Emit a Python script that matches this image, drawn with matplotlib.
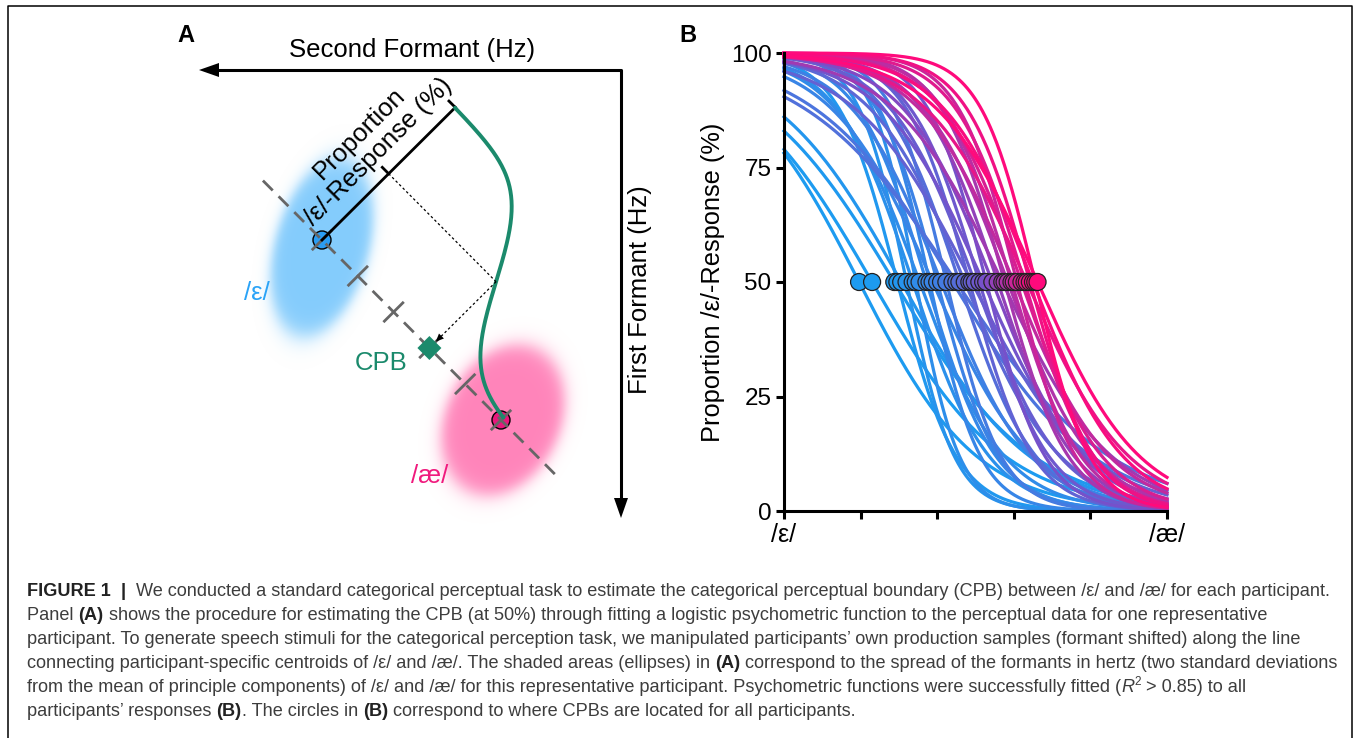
import numpy as np
import matplotlib.pyplot as plt
from matplotlib.colors import LinearSegmentedColormap
from matplotlib.patches import Polygon, Circle
from matplotlib.font_manager import FontProperties

plt.rcParams['font.family'] = ['Liberation Sans', 'DejaVu Sans']

# === Данные панели B: граница CPB и крутизна психометрической функции ===
cpb = [0.98, 1.15, 1.44, 1.53, 1.48, 1.60, 1.68, 1.72, 1.77, 1.86,
       1.90, 1.94, 2.00, 2.05, 2.12, 2.20, 2.25, 2.29, 2.36, 2.42,
       2.45, 2.49, 2.55, 2.60, 2.64, 2.72, 2.79, 2.85, 2.88, 2.92,
       2.97, 3.00, 3.04, 3.10, 3.14, 3.17, 3.21, 3.25, 3.28, 3.31]
slope = [1.30, 1.15, 1.10, 1.19, 2.60, 3.20, 2.00, 3.50, 1.80, 2.20,
         3.00, 1.50, 2.50, 1.70, 2.80, 1.10, 1.00, 2.00, 1.60, 2.40,
         1.30, 1.80, 2.20, 1.50, 2.60, 1.70, 2.00, 1.40, 2.40, 1.80,
         2.20, 1.60, 2.60, 1.90, 2.20, 1.50, 2.40, 1.70, 2.80, 1.50]
y_ticks = [0, 25, 50, 75, 100]
x_steps = [0, 1, 2, 3, 4, 5]
x_labels = ['/ε/', '', '', '', '', '/æ/']

# === Геометрия панели A (в пикселях) ===
eps_c = np.array([322.0, 240.0])
ae_c = np.array([501.0, 420.0])
stim_steps = [0.0, 0.2, 0.4, 0.6, 0.8, 1.0]
cpb_step = 0.6
resp_len = 188.0

W, H = 1356, 738
fig = plt.figure(figsize=(W / 100, H / 100), dpi=100)
ax = fig.add_axes([0, 0, 1, 1])
ax.set_xlim(0, W)
ax.set_ylim(H, 0)
ax.axis('off')

# размытые эллипсы
gx, gy = np.meshgrid(np.arange(W) + 0.5, np.arange(H) + 0.5)
img = np.zeros((H, W, 4))
for (cx, cy), a, b, th, col in [((322, 247), 47, 91, 15, (0.52, 0.80, 0.99)),
                                 ((503, 420), 57, 78, 25, (1.00, 0.52, 0.73))]:
    t = np.deg2rad(th)
    dx, dy = gx - cx, gy - cy
    v = dx * np.sin(t) - dy * np.cos(t)
    u = dx * np.cos(t) + dy * np.sin(t)
    r = np.sqrt((u / a) ** 2 + (v / b) ** 2)
    al = 1 / (1 + np.exp((r - 1) / 0.07))
    m = al > img[..., 3]
    img[m, :3] = col
    img[m, 3] = al[m]
ax.imshow(img, extent=(0, W, H, 0), origin='upper', zorder=1, interpolation='bilinear')


def head(tip, d, length=20, width=14, color='k'):
    d = np.array(d, float) / np.hypot(*d)
    p = np.array([-d[1], d[0]])
    tip = np.array(tip, float)
    base = tip - d * length
    ax.add_patch(Polygon([tip, base + p * width / 2, base - p * width / 2],
                         closed=True, color=color, zorder=6, lw=0))


# оси формант
ax.plot([215, 621, 621], [70, 70, 500], color='k', lw=2.2, zorder=5)
head((199, 70), (-1, 0))
head((621, 518), (0, 1))
ax.text(412, 50, 'Second Formant (Hz)', fontsize=18.5, ha='center', va='center')
ax.text(640, 290, 'First Formant (Hz)', fontsize=18.5, ha='center', va='center', rotation=90)

u = (ae_c - eps_c) / np.hypot(*(ae_c - eps_c))
n = np.array([u[1], -u[0]])
dist = np.hypot(*(ae_c - eps_c))

# пунктирная линия стимулов и отметки
p0 = eps_c - u * dist * 0.33
p1 = eps_c + u * dist * 1.33
ax.plot([p0[0], p1[0]], [p0[1], p1[1]], color='#666666', lw=2.0, dashes=(5, 3), zorder=4)
for s in stim_steps:
    c = eps_c + u * dist * s
    a1, a2 = c - n * 13, c + n * 13
    ax.plot([a1[0], a2[0]], [a1[1], a2[1]], color='#666666', lw=2.0, zorder=4)

ax.add_patch(Circle(eps_c, 9, facecolor='#2a9df4', edgecolor='k', lw=1, zorder=3))
ax.add_patch(Circle(ae_c, 9, facecolor='#e8177c', edgecolor='k', lw=1, zorder=3))

# ось ответа
top = eps_c + n * resp_len
mid = eps_c + n * resp_len / 2
ax.plot([eps_c[0], top[0]], [eps_c[1], top[1]], color='k', lw=2.0, zorder=5)
for q in (top, mid):
    e = q - u * 9
    ax.plot([q[0], e[0]], [q[1], e[1]], color='k', lw=2.0, zorder=5)

# психометрическая кривая вдоль линии
ss = np.linspace(0, 1, 200)
hh = resp_len / (1 + np.exp(10 * (ss - cpb_step)))
pts = eps_c[None, :] + np.outer(ss * dist, u) + np.outer(hh, n)
ax.plot(pts[:, 0], pts[:, 1], color='#1b8a6c', lw=2.8, zorder=5, solid_capstyle='round')

cpb_pt = eps_c + u * dist * cpb_step
curve_pt = cpb_pt + n * resp_len / 2
ax.plot([mid[0], curve_pt[0]], [mid[1], curve_pt[1]], color='k', lw=0.9, dashes=(2, 2), zorder=5)
end = cpb_pt + n * 14
ax.plot([curve_pt[0], end[0]], [curve_pt[1], end[1]], color='k', lw=0.9, dashes=(2, 2), zorder=5)
head(cpb_pt + n * 9, -n, length=8, width=7)
dd = 12
ax.add_patch(Polygon([cpb_pt + [dd, 0], cpb_pt + [0, -dd], cpb_pt - [dd, 0], cpb_pt + [0, dd]],
                     closed=True, color='#1b8a6c', zorder=6, lw=0))

ax.text(359, 134, 'Proportion', fontsize=18.5, rotation=45, ha='center', va='center',
        rotation_mode='anchor', zorder=6)
ax.text(378, 152, '/ε/-Response (%)', fontsize=18.5, rotation=45, ha='center', va='center',
        rotation_mode='anchor', zorder=6)
ax.text(257, 293, '/ε/', fontsize=18.5, color='#2aa3f7', ha='center', va='center')
ax.text(430, 476, '/æ/', fontsize=18.5, color='#f0197d', ha='center', va='center')
ax.text(381, 363, 'CPB', fontsize=18.5, color='#1b8a6c', ha='center', va='center')
ax.text(186, 35, 'A', fontsize=17, fontweight='bold', ha='center', va='center')
ax.text(688, 35, 'B', fontsize=17, fontweight='bold', ha='center', va='center')

# рамка
ax.plot([8, 8, 1352, 1352], [H, 6, 6, H], color='k', lw=1.1, zorder=6)

# === Панель B ===
axb = fig.add_axes([784 / W, 1 - 511 / H, (1167 - 784) / W, (511 - 53) / H])
axb.patch.set_alpha(0)
cmap = LinearSegmentedColormap.from_list(
    'bm', [(0, '#1d9bf0'), (0.35, '#3f80e4'), (0.68, '#7a4ec8'), (1, '#ff0a7c')])
cnorm = lambda c: np.clip((c - 1.4) / (3.28 - 1.4), 0, 1)
xs = np.linspace(0, 5, 300)
order = np.argsort(cpb)
for i in order:
    y = 100 / (1 + np.exp(slope[i] * (xs - cpb[i])))
    axb.plot(xs, y, color=cmap(cnorm(cpb[i])), lw=2.3, clip_on=False)
cs = np.array(cpb)[order]
axb.scatter(cs, np.full(len(cs), 50), c=[cmap(cnorm(c)) for c in cs], s=150,
            edgecolors='#222222', linewidths=0.9, zorder=5, clip_on=False)
axb.set_xlim(0, 5)
axb.set_ylim(0, 100)
axb.set_xticks(x_steps)
axb.set_xticklabels(x_labels, fontsize=18)
axb.set_yticks(y_ticks)
axb.set_yticklabels([str(v) for v in y_ticks], fontsize=17.5)
axb.set_ylabel('Proportion /ε/-Response (%)', fontsize=18.3, labelpad=4)
for sp in ('top', 'right'):
    axb.spines[sp].set_visible(False)
for sp in ('left', 'bottom'):
    axb.spines[sp].set_linewidth(2.2)
axb.tick_params(length=6, width=2.2, pad=3)

# === Подпись ===
renderer = fig.canvas.get_renderer()
cap_col, bold_col = '#3d3d3d', '#222222'
caption = [
    [('FIGURE 1', 'b'), ('  |  ', 'b'),
     ('We conducted a standard categorical perceptual task to estimate the categorical perceptual boundary (CPB) between /ε/ and /æ/ for each participant.', 'n')],
    [('Panel ', 'n'), ('(A)', 'b'),
     (' shows the procedure for estimating the CPB (at 50%) through fitting a logistic psychometric function to the perceptual data for one representative', 'n')],
    [('participant. To generate speech stimuli for the categorical perception task, we manipulated participants’ own production samples (formant shifted) along the line', 'n')],
    [('connecting participant-specific centroids of /ε/ and /æ/. The shaded areas (ellipses) in ', 'n'), ('(A)', 'b'),
     (' correspond to the spread of the formants in hertz (two standard deviations', 'n')],
    [('from the mean of principle components) of /ε/ and /æ/ for this representative participant. Psychometric functions were successfully fitted (', 'n'),
     ('R', 'i'), ('2', 'sup'), (' > 0.85) to all', 'n')],
    [('participants’ responses ', 'n'), ('(B)', 'b'), ('. The circles in ', 'n'), ('(B)', 'b'),
     (' correspond to where CPBs are located for all participants.', 'n')],
]
baselines = [596, 620, 644, 668, 692, 716]


def props(style, fs):
    if style == 'b':
        return FontProperties(family=['Liberation Sans'], weight='bold', size=fs)
    if style == 'i':
        return FontProperties(family=['Liberation Sans'], style='italic', size=fs)
    if style == 'sup':
        return FontProperties(family=['Liberation Sans'], size=fs * 0.65)
    return FontProperties(family=['Liberation Sans'], size=fs)


def width(s, fp):
    w1 = renderer.get_text_width_height_descent('l' + s + 'l', fp, ismath=False)[0]
    w0 = renderer.get_text_width_height_descent('ll', fp, ismath=False)[0]
    return w1 - w0


fs = 13
total = sum(width(t, props(st, fs)) for t, st in caption[0])
fs = fs * (1332 - 27) / total

for line, yb in zip(caption, baselines):
    x = 27
    for t, st in line:
        fp = props(st, fs)
        yy = yb - fs * 0.55 if st == 'sup' else yb
        ax.text(x, yy, t, fontproperties=fp, color=bold_col if st == 'b' else cap_col,
                ha='left', va='baseline', zorder=6)
        x += width(t, fp)

fig.savefig('out.png', dpi=100)
